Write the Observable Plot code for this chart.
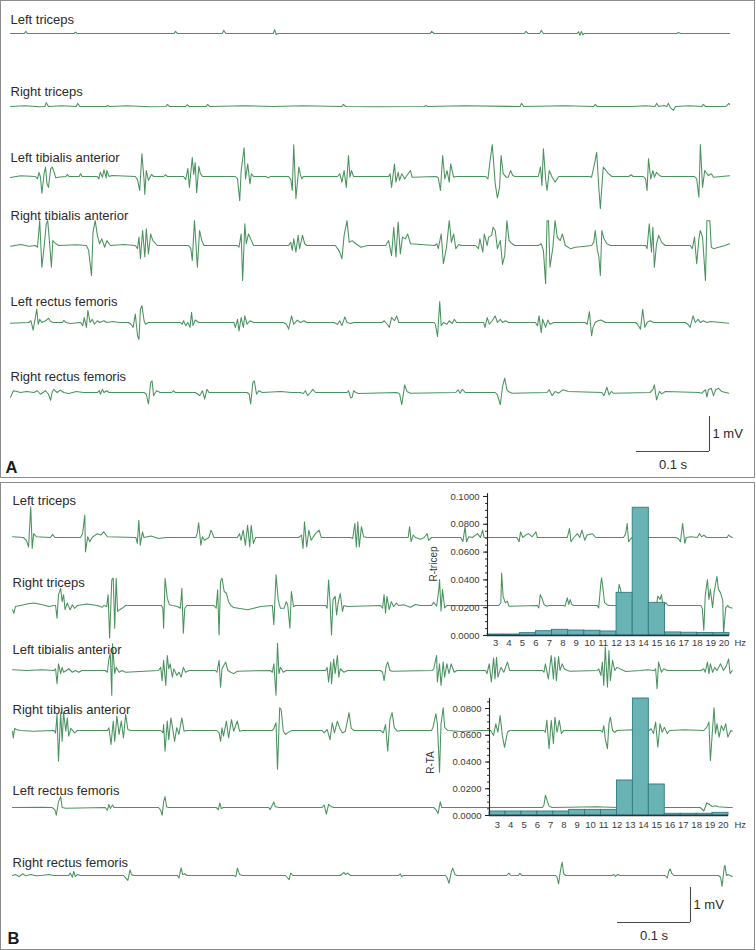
<!DOCTYPE html>
<html><head><meta charset="utf-8">
<script src="https://cdn.jsdelivr.net/npm/d3@7"></script>
<script src="https://cdn.jsdelivr.net/npm/@observablehq/plot@0.6"></script>
<style>
body{margin:0;background:#fff;font-family:"Liberation Sans",Arial,sans-serif}
#root{position:relative;width:756px;height:950px;overflow:hidden;background:#fff}
.box{position:absolute;box-sizing:border-box;border:1.5px solid #8c8c8c}
</style></head><body><div id="root"></div>
<script>
// ---------- DATA (time in ms, amplitude in mV relative to trace baseline) ----------
const MUSCLES = ["Left triceps","Right triceps","Left tibialis anterior","Right tibialis anterior","Left rectus femoris","Right rectus femoris"];

const A_LEFT_TRICEPS = [[0,0],[19,0],[21,0.06],[23,0],[87,0],[89,0.04],[91,0],[224,0],[226,0.06],[229,0],[290,0],[292,0.09],[295,0],[360,0],[362,0.11],[364,-0.03],[366,0],[575,0],[577,0.06],[580,0],[704,0],[706,0.06],[709,0],[725,0],[727,0.09],[730,0],[776,0],[778,0.05],[780,-0.05],[782,0.06],[784,-0.04],[786,0],[913,0],[915,0.03],[918,0],[985,0]];
const A_RIGHT_TRICEPS = [[0,0],[20,0.02],[40,-0.01],[47,0],[49,0.11],[52,0],[70,0.02],[90,0],[92,0.09],[95,0],[131,0],[133,0.03],[136,0],[160,0.02],[190,-0.01],[213,0],[215,0.06],[218,0],[240,0],[242,0.05],[245,0],[268,0],[270,0.06],[273,0],[320,0.02],[360,0],[400,0.02],[454,0],[456,0.06],[459,0],[500,-0.01],[567,0],[569,0.03],[572,0],[620,0.02],[698,0],[700,0.09],[703,0],[760,0.02],[799,0],[801,0.06],[804,0],[850,0],[870,0.02],[883,0],[885,0.09],[888,0],[895,0.03],[899,0],[901,0.09],[904,-0.03],[908,-0.11],[911,0],[930,0.02],[947,0],[949,0.06],[952,0],[980,0],[984,0.09],[985,0.06]];
const A_LEFT_TA = [[0,-0.03],[14,0.02],[34,0],[37,-0.07],[39,0.12],[41,-0.02],[43,-0.48],[46,0.08],[48,0.27],[50,-0.21],[52,-0.31],[55,0.22],[57,0.27],[59,0.17],[62,-0.04],[65,-0.02],[76,0],[78,0.06],[80,0],[94,0],[96,0.08],[98,0],[119,0],[121,-0.07],[123,0.12],[126,-0.02],[128,0.19],[131,-0.04],[132,0.17],[135,0],[139,0.03],[171,0],[174,-0.09],[177,-0.4],[180,0.65],[183,-0.11],[184,-0.51],[186,0.17],[189,-0.11],[193,0.06],[196,0],[210,0],[212,0.05],[215,0],[237,0],[240,-0.09],[243,0.23],[245,-0.31],[249,0.54],[251,0.06],[253,0.4],[255,-0.46],[258,0.29],[260,0.09],[263,0],[308,0],[311,-0.07],[314,-0.69],[316,0.17],[320,0.82],[322,-0.07],[325,0.36],[328,-0.21],[330,0.08],[333,0],[350,0],[353,-0.04],[356,0],[381,0],[384,-0.09],[386,-0.4],[388,0.91],[391,-0.63],[395,0.27],[397,0.06],[399,-0.07],[401,0],[448,0],[451,0.08],[454,-0.16],[457,0.17],[460,-0.31],[463,0.6],[465,-0.02],[467,0.17],[470,0],[518,0],[520,0.08],[522,-0.31],[526,0.36],[528,-0.16],[531,0.12],[533,-0.11],[536,0.08],[540,-0.07],[543,0.03],[548,0.17],[550,-0.02],[583,0],[586,-0.04],[589,-0.4],[592,0.6],[595,-0.07],[598,0.17],[601,-0.16],[603,0.36],[607,-0.02],[610,0],[651,0],[654,-0.07],[657,0.46],[660,0.91],[664,-0.21],[667,-0.61],[670,-0.31],[672,0.6],[675,0.08],[679,-0.02],[682,-0.02],[685,0.17],[688,0.03],[691,0],[723,0],[726,0.27],[728,-0.26],[730,0.79],[733,-0.07],[735,-0.4],[738,0.17],[742,-0.02],[746,-0.16],[751,0],[793,0],[796,-0.02],[800,0.36],[803,0.69],[806,-0.35],[808,-0.92],[810,-0.31],[812,0.27],[816,0.17],[819,0.08],[824,0],[847,0],[850,0.05],[853,0],[867,0],[870,-0.07],[872,-0.4],[874,0.51],[877,-0.07],[880,0.17],[882,-0.02],[885,0.12],[889,0.03],[892,0],[937,0],[940,-0.07],[943,-0.59],[945,0.91],[948,-0.31],[951,0.17],[954,0.08],[956,0.03],[960,0.08],[963,-0.02],[985,0.02]];
const A_RIGHT_TA = [[0,-0.02],[14,0.03],[25,-0.02],[34,0],[37,-0.05],[40,0.71],[43,-0.62],[46,-0.05],[49,0.62],[51,0.71],[54,-0.05],[56,-0.62],[58,0.14],[62,0.05],[66,0],[90,0.02],[104,0],[107,-0.14],[111,-0.86],[113,0.38],[116,0.71],[119,0.29],[122,0.05],[125,0.19],[129,-0.05],[132,0.14],[137,0],[155,0.03],[171,0],[174,-0.09],[176,0.24],[178,-0.38],[181,0.43],[184,-0.33],[186,0.48],[189,-0.24],[192,0.33],[195,0.14],[199,0.05],[201,0],[244,0],[247,-0.09],[249,-0.43],[252,0.71],[256,-0.62],[259,0.43],[262,0.14],[265,0],[311,0],[313,-0.05],[316,0.33],[318,-1.0],[321,0.62],[323,0.05],[326,0.33],[330,0.14],[333,0],[381,0],[384,0.09],[386,-0.14],[388,0.19],[391,-0.19],[394,0.29],[396,-0.09],[400,0.29],[403,0.05],[406,0],[445,0],[448,-0.09],[451,-0.19],[454,-0.38],[457,0.29],[461,0.71],[464,0.09],[468,0.14],[473,0.05],[480,-0.05],[489,0],[514,0],[518,0.14],[522,-0.29],[525,0.52],[528,-0.33],[531,0.67],[534,-0.24],[537,0.24],[541,0.19],[544,0.33],[548,0.05],[581,0],[584,0.05],[586,-0.09],[590,0.33],[593,-0.52],[597,-0.09],[601,0.71],[604,0.09],[607,0.33],[610,-0.09],[614,0.03],[618,0],[637,0],[641,-0.09],[643,0.19],[647,-0.19],[649,0.33],[653,0],[655,0.24],[659,0.29],[661,0.52],[664,0.43],[667,-0.09],[671,0.14],[674,-0.54],[677,-0.29],[680,0.71],[683,0.14],[687,0.05],[691,0],[723,0],[727,0.05],[730,-0.14],[733,-1.09],[735,0.71],[737,0.71],[739,-0.62],[743,-0.05],[746,0.71],[749,0.24],[753,0.14],[756,0.33],[760,0],[767,-0.09],[774,-0.05],[796,0],[799,0.09],[801,0.43],[804,-0.14],[806,-0.33],[808,-0.86],[810,0.43],[813,0.19],[817,0.05],[822,0],[870,0],[872,-0.09],[875,0.62],[878,-0.19],[880,0.52],[882,-0.62],[885,0.05],[888,0.29],[892,0.09],[897,0],[931,0],[934,-0.09],[937,0.24],[940,-0.52],[943,0.19],[945,0.43],[948,0.24],[952,-1.0],[954,0.71],[958,0.71],[960,-0.05],[963,-0.09],[970,-0.05],[979,0],[985,0.05]];
const A_LEFT_RF = [[0,-0.02],[25,0],[28,0.05],[31,-0.22],[34,0.14],[36,0.38],[38,-0.05],[40,0.09],[43,0],[48,0.05],[52,0.12],[55,0.03],[59,0],[71,0],[73,0.06],[76,0],[82,-0.03],[96,0],[99,-0.09],[101,0.14],[104,-0.14],[106,0.35],[109,0],[112,0.09],[115,-0.05],[119,0.05],[122,0],[128,0.05],[132,0],[140,0.03],[150,0],[162,0],[165,-0.05],[168,-0.14],[171,0.24],[174,-0.38],[176,-0.48],[178,0.38],[180,0.48],[183,0.05],[185,-0.05],[189,0],[233,0],[235,-0.05],[237,0.05],[240,-0.09],[243,0],[246,-0.14],[248,0.29],[250,-0.09],[253,0.07],[258,0],[301,0],[306,0],[308,-0.14],[311,0.09],[313,-0.24],[316,0.14],[319,-0.14],[321,0.19],[324,-0.05],[328,0.05],[333,0],[374,0],[378,-0.05],[381,-0.19],[385,0.19],[388,-0.05],[393,0.07],[397,0],[402,0.05],[406,0],[443,0],[448,-0.05],[451,0.05],[454,-0.09],[458,0.16],[461,0],[466,-0.03],[470,0],[504,0],[509,0],[512,0.05],[516,-0.05],[519,-0.14],[522,0.14],[526,0.05],[529,0.19],[532,0],[536,0],[580,0],[582,-0.05],[585,-0.4],[588,0.6],[590,-0.09],[593,0],[598,-0.05],[601,0.05],[605,-0.03],[608,0.09],[611,0],[616,0],[648,0],[650,-0.14],[653,0.14],[656,-0.05],[660,0.05],[664,0.19],[667,0],[671,0.09],[674,0],[678,0.05],[682,0],[719,0],[722,-0.09],[724,0.19],[727,-0.29],[729,0.09],[733,-0.14],[736,0.07],[739,-0.05],[744,0],[787,0],[790,-0.05],[793,0.31],[796,-0.38],[798,-0.14],[801,0],[805,0.05],[809,0.07],[815,0],[819,0],[856,0],[859,-0.05],[863,-0.19],[866,0.38],[869,-0.14],[872,0],[876,0.05],[881,0],[924,0],[928,-0.05],[931,-0.14],[935,0.19],[938,0],[942,0.09],[945,0],[949,0.05],[954,0],[959,0.03],[984,-0.02]];
const A_RIGHT_RF = [[0,-0.14],[4,0.05],[14,0],[22,0.03],[32,0],[37,0.05],[41,-0.05],[48,0.05],[52,-0.05],[55,-0.22],[57,0],[59,0.09],[64,0],[68,0.07],[73,0],[80,-0.03],[90,0.03],[100,0],[119,0],[122,0.05],[123,-0.05],[126,0.09],[128,0],[132,0.05],[135,0],[183,0],[186,-0.05],[189,-0.33],[192,0.29],[194,0.33],[196,-0.09],[200,0.05],[205,0],[221,0],[223,0.05],[226,0],[253,0],[257,-0.05],[259,-0.09],[263,0.05],[266,-0.19],[269,0.09],[272,0],[276,0],[324,0],[327,-0.05],[329,-0.33],[332,0.29],[334,0.33],[337,-0.05],[340,0.05],[345,0],[370,0.03],[385,0],[397,0],[401,-0.03],[404,0.05],[407,-0.09],[411,0],[414,0.09],[418,0],[461,0],[463,0.05],[466,-0.16],[468,-0.14],[470,0.05],[473,0],[477,-0.03],[529,0],[533,-0.04],[536,-0.35],[540,0.22],[543,0.03],[548,-0.02],[610,0],[613,0.08],[616,-0.02],[619,0.09],[623,0],[664,0],[667,-0.07],[671,-0.35],[674,0.17],[677,0.41],[680,0.08],[682,0.03],[687,-0.02],[735,0],[738,0.08],[742,-0.09],[746,0.03],[751,-0.02],[757,0.08],[764,0.03],[810,0],[813,-0.09],[817,0.15],[820,-0.07],[823,0.03],[826,-0.02],[876,0],[880,0.08],[882,0.22],[885,-0.21],[889,0.03],[892,-0.04],[897,0.03],[943,0],[947,-0.02],[952,0.08],[954,-0.13],[956,0.08],[960,0.12],[963,-0.09],[966,0.08],[970,0.12],[974,0.03],[984,-0.02]];

const B_LEFT_TRICEPS = [[0,0.02],[15,0],[19,-0.08],[22,-0.27],[25,0.88],[27,-0.31],[29,0.11],[33,0.02],[52,0],[55,0.09],[58,0],[93,0],[96,0.11],[99,0.64],[100,-0.41],[103,0.02],[106,-0.12],[109,0],[116,0.11],[121,0.07],[125,0.16],[130,0.02],[169,0],[171,-0.17],[173,0.49],[175,-0.22],[178,0.16],[180,0],[190,0.04],[200,-0.03],[210,0],[251,0],[253,0.11],[255,0.42],[258,-0.22],[260,0.02],[263,-0.08],[269,0],[272,0.21],[276,0],[308,0],[311,0.11],[313,-0.08],[316,0.21],[319,-0.22],[322,0.35],[325,-0.27],[327,0.35],[330,-0.17],[333,0],[392,0],[396,0.07],[398,-0.31],[400,0.45],[403,-0.27],[406,0.21],[409,-0.08],[415,0.11],[420,0.21],[423,0],[463,0],[466,-0.03],[469,0.4],[471,-0.27],[473,0.45],[475,-0.27],[478,0.31],[481,0.02],[486,0],[542,0],[544,0.31],[546,-0.12],[549,0.07],[552,0],[559,-0.05],[564,0],[568,0.11],[570,-0.08],[574,0],[614,0],[617,-0.12],[620,0.31],[622,-0.12],[625,0.02],[630,0],[637,0.11],[641,0],[644,0.21],[646,0],[691,0],[694,-0.12],[696,0.16],[699,0],[703,0.07],[707,0.11],[712,0.02],[717,0.16],[719,0],[760,0],[763,0.26],[765,-0.12],[769,0],[774,0.11],[777,0],[780,0.21],[784,-0.08],[787,0.07],[794,0.11],[799,0],[837,0],[840,0.11],[842,0.4],[844,-0.12],[847,-0.03],[849,0],[908,0],[912,-0.03],[915,-0.12],[918,0.4],[921,-0.17],[923,0],[929,0.02],[938,0],[941,0.11],[944,0.02],[947,0.07],[951,0],[979,0],[981,0.07],[984,0.02],[986,0]];
const B_RIGHT_TRICEPS = [[0,-0.12],[2,-0.22],[4,-0.03],[11,0],[20,0.04],[29,0.07],[41,0.02],[50,-0.03],[57,0],[59,0],[61,-0.36],[63,0.31],[66,0.49],[68,0.11],[70,0.31],[72,-0.12],[75,0.07],[79,-0.12],[82,0.02],[85,-0.08],[89,0],[102,0.04],[116,0],[123,-0.05],[125,0],[129,-0.03],[131,0.31],[133,-0.93],[136,0.73],[138,0.78],[140,-0.65],[142,0.78],[144,-0.17],[147,-0.12],[150,-0.08],[155,0],[204,0],[206,-0.08],[207,-0.65],[209,0.78],[212,0.21],[215,0.02],[219,0],[226,-0.03],[230,-0.08],[232,0.49],[234,-0.79],[236,-0.08],[239,0],[276,0],[279,-0.08],[281,0.45],[283,-0.84],[285,0.69],[287,0.78],[290,0.4],[293,0.35],[296,0.11],[299,0],[303,-0.06],[322,-0.12],[340,-0.03],[356,0],[358,-0.55],[361,0.88],[364,0.16],[367,-0.08],[372,-0.08],[375,0.11],[377,0.02],[380,-0.65],[382,0.4],[385,-0.03],[388,0],[429,0],[431,-0.08],[433,0.73],[435,0.11],[437,-0.84],[439,0.16],[442,0.26],[444,-0.27],[446,0.07],[449,0.35],[452,-0.17],[454,0],[459,-0.03],[504,0],[507,-0.08],[509,0.31],[511,-0.22],[513,0.26],[516,-0.12],[519,0.11],[522,-0.03],[526,0.07],[529,0],[536,0.02],[545,-0.05],[552,0.03],[559,0],[574,0],[577,0.09],[581,-0.02],[584,0.46],[585,0.74],[587,-0.16],[589,0.46],[592,-0.07],[595,0],[666,0],[669,0.08],[670,0.93],[672,0.27],[675,0.08],[678,0.12],[680,-0.02],[719,0],[721,-0.07],[723,0.31],[726,0.17],[728,0.03],[732,-0.02],[735,0],[755,0],[757,-0.02],[760,0.22],[762,0.03],[764,0.17],[766,0.03],[769,0],[801,0],[803,-0.07],[806,0.65],[807,0.79],[809,0.46],[811,0.08],[814,0.03],[817,0],[828,0],[831,0.6],[833,0.46],[835,0.08],[840,0],[882,0],[884,0.27],[887,0.17],[889,0.31],[891,-0.02],[895,0.08],[898,0],[943,0],[945,-0.09],[947,-0.71],[949,0.29],[952,0.74],[954,0.17],[956,0.46],[959,-0.06],[961,0.36],[965,0.83],[967,0.46],[970,0.36],[973,0.14],[974,-0.8],[977,-0.06],[980,0],[982,-0.06],[986,-0.07]];
const B_LEFT_TA = [[0,0.02],[20,0],[40,0.02],[57,0],[59,0.05],[61,-0.38],[63,0.19],[66,-0.09],[68,0.09],[70,-0.05],[74,0],[77,0.05],[82,-0.05],[86,0],[91,-0.05],[95,0],[127,0],[130,-0.05],[132,0.33],[134,0.48],[136,-0.71],[137,0.76],[140,-0.09],[142,0.09],[146,-0.05],[150,0],[155,-0.05],[200,0],[203,0.09],[205,-0.29],[207,0.29],[210,-0.43],[212,0.43],[214,0.05],[216,0.19],[219,-0.19],[221,0.05],[225,-0.14],[228,-0.05],[231,-0.19],[234,0.09],[237,-0.05],[242,0],[278,0],[280,-0.05],[283,0.29],[285,-0.48],[287,0.05],[292,0.24],[295,0],[299,-0.05],[303,-0.09],[308,-0.02],[353,0],[356,-0.05],[358,0.19],[361,-0.71],[363,0.78],[365,-0.09],[367,0.09],[371,-0.05],[375,0],[429,0],[431,0.09],[433,-0.33],[436,0.24],[437,-0.38],[440,0.33],[442,-0.09],[445,0.43],[447,-0.19],[449,0.05],[454,-0.05],[459,0],[504,0],[507,-0.05],[509,-0.29],[512,0.14],[514,0.24],[517,0],[520,-0.02],[575,0],[577,0.05],[581,0.43],[582,-0.33],[585,0.19],[587,-0.43],[590,0.24],[592,-0.19],[595,0.19],[598,-0.09],[601,0.19],[605,-0.05],[609,0],[648,0],[650,-0.09],[653,0.19],[656,-0.33],[659,0.36],[661,-0.24],[663,0.38],[665,-0.19],[669,0.09],[673,-0.05],[678,0.24],[681,0],[685,0],[726,0],[728,-0.05],[730,0.19],[734,-0.24],[736,0.09],[738,0.43],[741,-0.24],[743,0.38],[745,-0.29],[748,0.4],[750,0],[753,0.19],[756,0.05],[760,0],[764,-0.02],[801,0],[803,0.05],[806,-0.14],[808,0.24],[810,-0.43],[812,0.67],[815,-0.48],[817,0.57],[819,-0.29],[822,0.29],[825,0],[828,0.09],[840,-0.03],[860,0],[870,0.02],[879,0],[881,0.05],[883,-0.52],[885,0.24],[889,-0.05],[892,0.05],[897,0],[943,0],[947,0.05],[949,-0.05],[952,0.24],[954,-0.09],[956,0.19],[959,-0.05],[962,0.09],[965,0],[970,0.19],[974,0],[978,0.14],[981,0.33],[983,-0.09],[986,0]];
const B_RIGHT_TA = [[0,-0.02],[1,-0.21],[3,0.06],[5,0.03],[11,0],[29,-0.02],[57,0],[59,-0.07],[61,0.46],[63,-0.88],[66,0.51],[68,-0.31],[70,0.51],[73,-0.02],[75,0.36],[77,-0.16],[80,0.06],[85,-0.07],[89,0],[130,0],[132,0.08],[135,-0.4],[138,0.27],[140,-0.31],[143,0.41],[146,-0.11],[149,0.27],[152,-0.21],[155,0.46],[158,0.03],[162,0],[203,0],[206,-0.07],[207,0.17],[209,-0.59],[212,0.27],[214,-0.26],[217,0.36],[220,-0.02],[222,-0.31],[225,0.08],[228,-0.11],[232,0.36],[235,-0.02],[239,0],[280,0],[283,-0.07],[285,-0.31],[287,0.08],[289,-0.16],[293,0.27],[296,-0.21],[300,0.31],[303,-0.02],[308,0.27],[311,-0.02],[315,0],[356,0],[358,0.06],[361,0.22],[363,-1.11],[366,0.65],[368,0.6],[371,-0.02],[374,-0.11],[379,-0.04],[383,0],[424,0],[427,-0.07],[431,0.03],[435,-0.26],[438,0.22],[441,-0.07],[445,0.27],[448,0.08],[452,-0.07],[456,-0.02],[461,0.51],[464,0.06],[468,0],[504,0],[508,-0.07],[511,0.17],[514,-0.59],[517,0.31],[520,0.51],[523,0.08],[527,-0.02],[532,0],[574,0],[576,0.09],[580,0.48],[582,0.19],[585,-1.19],[587,0.19],[590,0.65],[592,0.09],[596,0],[615,-0.03],[640,0],[655,0],[659,-0.14],[662,0.19],[665,-0.05],[668,0.43],[671,-0.14],[674,-0.48],[678,-0.05],[681,0],[728,0],[730,-0.05],[732,0.29],[735,-0.52],[738,0.29],[741,-0.38],[743,0.38],[746,-0.05],[749,0.29],[752,-0.09],[755,0],[806,0],[808,-0.05],[810,0.14],[812,-0.24],[815,-0.52],[817,0.19],[819,0.38],[822,0],[825,-0.05],[828,0],[850,0.02],[870,0],[872,0],[875,0.05],[878,-0.09],[881,0.24],[884,-0.48],[887,0.19],[890,-0.05],[893,0.09],[897,-0.09],[900,0],[920,0.02],[947,0],[951,0.09],[954,0.24],[956,-0.86],[959,0.05],[961,0.65],[963,-0.09],[965,0.19],[968,-0.19],[971,0.14],[974,0],[977,0.19],[980,-0.19],[984,0],[986,-0.02]];
const B_LEFT_RF = [[0,0],[40,0.01],[54,0],[58,-0.06],[60,-0.22],[63,0.16],[66,0.31],[68,0],[73,-0.02],[127,0],[130,-0.08],[132,0.09],[134,-0.03],[137,0.07],[139,0],[200,0],[203,-0.08],[205,-0.22],[207,0.16],[209,0.31],[211,0.02],[214,0],[279,0],[282,-0.06],[284,0.13],[286,-0.03],[289,0],[351,0],[353,-0.06],[356,0.07],[358,0.16],[360,0.02],[365,0],[424,0],[427,0.07],[430,-0.19],[433,0.09],[437,0.02],[440,0],[577,0],[580,-0.06],[583,-0.17],[586,0.16],[588,0],[593,0],[726,0],[728,0.07],[730,0.35],[733,0.16],[735,0.04],[739,0],[800,0.02],[830,0],[942,0],[947,-0.1],[951,0.13],[954,0.1],[958,0.03],[963,0.05],[967,0.02],[981,0],[986,0]];
const B_RIGHT_RF = [[0,0],[4,0.03],[9,-0.03],[14,0.05],[18,-0.01],[25,0.03],[32,-0.01],[42,0.01],[50,0.03],[56,0],[77,0],[79,0.07],[82,-0.05],[84,0.12],[86,-0.03],[89,0.03],[93,0],[152,0],[155,-0.07],[158,-0.14],[161,0.16],[163,0.03],[166,0],[226,0],[228,-0.07],[231,0.22],[233,0.03],[236,0.05],[239,0],[303,0],[306,-0.03],[308,0.21],[311,0.03],[315,0],[374,0],[376,-0.05],[379,-0.12],[381,0.07],[384,0],[449,0],[452,0.05],[454,0.09],[456,0.03],[459,0.07],[463,0],[529,0],[531,0.05],[533,-0.03],[536,0],[593,0],[595,-0.05],[598,-0.22],[601,0.09],[603,0.21],[606,0.03],[609,0],[677,0],[680,0.07],[682,0.01],[693,0],[695,0.06],[698,0],[744,0],[746,-0.05],[748,-0.24],[751,0.19],[753,0.38],[755,0.05],[758,0],[821,0],[824,0.03],[826,-0.03],[829,0.03],[832,0],[894,0],[897,-0.07],[899,0.12],[901,0.19],[903,0.07],[906,0],[967,0],[970,-0.05],[972,-0.31],[975,0.24],[976,0.29],[978,0],[980,0.03],[986,-0.03]];

// Frequency histograms (power per bin)
const FREQ_TICKS = [3,4,5,6,7,8,9,10,11,12,13,14,15,16,17,18,19,20];
const BIN_EDGES_HZ = [2.4,3.6,4.8,6.0,7.2,8.4,9.6,10.8,12.0,13.2,14.4,15.6,16.8,18.0,19.2,20.4];
const R_TRICEP_POWER = [0.0007,0.0007,0.0017,0.0031,0.0041,0.0036,0.0034,0.0029,0.0307,0.0919,0.0235,0.0022,0.0020,0.0018,0.0017];
const R_TA_POWER = [0.0030,0.0030,0.0030,0.0030,0.0030,0.0042,0.0042,0.0042,0.0262,0.0875,0.0232,0.0013,0.0013,0.0013,0.0020];
const Y_TICKS_TRICEP = [0,0.02,0.04,0.06,0.08,0.1];
const Y_TICKS_TA = [0,0.02,0.04,0.06,0.08];
const SCALE_BAR = {ms: 100, mV: 1, timeLabel: "0.1 s", voltLabel: "1 mV"};

// ---------- LAYOUT ----------
const PX_PER_MS = 0.73, PX_PER_MV = 35;
const GREEN = "#3f8c55", INK = "#2a2a2a", FONT = "'Liberation Sans', Arial, sans-serif";
const root = document.getElementById("root");

function box(left, top, w, h) {
  const d = document.createElement("div");
  d.className = "box";
  Object.assign(d.style, {left: left + "px", top: top + "px", width: w + "px", height: h + "px"});
  root.appendChild(d);
}
box(0, 0, 754.5, 478);
box(0, 481.5, 754.5, 468);

function drawPanel(p) {
  const lvl = py => (p.height - (py - p.top)) / PX_PER_MV;
  const data = p.traces.flatMap((tr, i) => tr.map(([t, v]) => ({t, v: v + lvl(p.rows[i]), i})));
  const labels = MUSCLES.map((m, i) => ({m, t: 0, y: lvl(p.labels[i])}));
  const barT = (p.bar[0] - p.x0) / PX_PER_MS, barV = lvl(p.bar[1]);
  const svg = Plot.plot({
    width: 756, height: p.height, margin: 0,
    style: {background: "transparent", fontFamily: FONT, position: "absolute", left: "0px", top: p.top + "px", overflow: "visible"},
    x: {domain: [0, 1000], range: [p.x0, p.x0 + 1000 * PX_PER_MS], axis: null},
    y: {domain: [0, p.height / PX_PER_MV], range: [p.height, 0], axis: null},
    marks: [
      Plot.line(data, {x: "t", y: "v", z: "i", stroke: GREEN, strokeWidth: 1.05, strokeOpacity: 0.95}),
      Plot.text(labels, {x: "t", y: "y", text: "m", textAnchor: "start", lineAnchor: "bottom", fontSize: 13, fill: INK}),
      Plot.ruleY([barV], {x1: barT - SCALE_BAR.ms, x2: barT, stroke: "#4a4a4a", strokeWidth: 1.1}),
      Plot.ruleX([barT], {y1: barV, y2: barV + SCALE_BAR.mV, stroke: "#4a4a4a", strokeWidth: 1.1}),
      Plot.text([SCALE_BAR.voltLabel], {x: [barT], y: [barV + SCALE_BAR.mV / 2], dx: 3, textAnchor: "start", lineAnchor: "middle", fontSize: 13, fill: INK}),
      Plot.text([SCALE_BAR.timeLabel], {x: [barT - SCALE_BAR.ms / 2], y: [barV], dy: 13, textAnchor: "middle", lineAnchor: "middle", fontSize: 13, fill: INK}),
      Plot.text([p.letter], {frameAnchor: "bottom-left", dx: p.letterXY[0], dy: p.letterXY[1] - (p.top + p.height), textAnchor: "start", lineAnchor: "bottom", fontSize: 16.5, fontWeight: "bold", fill: "#1a1a1a"})
    ]
  });
  root.appendChild(svg);
}

drawPanel({traces: [A_LEFT_TRICEPS, A_RIGHT_TRICEPS, A_LEFT_TA, A_RIGHT_TA, A_LEFT_RF, A_RIGHT_RF],
  top: 0, height: 480, x0: 10, rows: [33,106,176,245,322,392], labels: [23,95,161,219,305,380],
  bar: [709, 451], letter: "A", letterXY: [5, 472]});
drawPanel({traces: [B_LEFT_TRICEPS, B_RIGHT_TRICEPS, B_LEFT_TA, B_RIGHT_TA, B_LEFT_RF, B_RIGHT_RF],
  top: 480, height: 470, x0: 12, rows: [537,605,670,730,807,875], labels: [504,586,653,713,794,866],
  bar: [690, 922], letter: "B", letterXY: [7, 943]});

function drawInset(o) {
  const bins = o.values.map((v, i) => ({lo: BIN_EDGES_HZ[i], hi: BIN_EDGES_HZ[i + 1], v}));
  const minor = d3.range(0, o.yMax + 1e-9, 0.005);
  const svg = Plot.plot({
    width: o.width, height: o.height,
    marginLeft: o.ml, marginRight: o.mr, marginTop: o.mt, marginBottom: o.mb,
    style: {background: "transparent", fontFamily: FONT, position: "absolute", left: o.left + "px", top: o.top + "px", overflow: "visible"},
    x: {domain: [BIN_EDGES_HZ[0], BIN_EDGES_HZ[BIN_EDGES_HZ.length - 1]], axis: null},
    y: {domain: [0, o.yMax], axis: null},
    marks: [
      Plot.rectY(bins, {x1: "lo", x2: "hi", y: "v", fill: "#69b3b5", stroke: "#2f7b80", strokeWidth: 0.9, inset: 0}),
      Plot.axisY({ticks: minor, tickSize: 2, tickFormat: () => "", stroke: "#333", label: null}),
      Plot.axisY({ticks: o.yTicks, tickSize: 4, tickPadding: 4, tickFormat: d => d.toFixed(4), fontSize: 9.5, fill: "#3a3a3a", stroke: "#222", label: null}),
      Plot.ruleX([BIN_EDGES_HZ[0]], {stroke: "#222", strokeWidth: 1.1}),
      Plot.ruleY([0], {stroke: "#2a3346", strokeWidth: 1.6}),
      Plot.text(FREQ_TICKS, {x: d => d, frameAnchor: "bottom", dy: o.hzDy, textAnchor: "middle", lineAnchor: "middle", fontSize: 9.5, fill: "#3a3a3a"}),
      Plot.text(["Hz"], {frameAnchor: "bottom-right", dx: o.hzDx, dy: o.hzDy, textAnchor: "middle", lineAnchor: "middle", fontSize: 9.5, fill: "#3a3a3a"}),
      Plot.text([o.label], {frameAnchor: "left", rotate: -90, dx: o.labDx, dy: o.labDy, lineAnchor: "middle", textAnchor: "middle", fontSize: 10, fill: "#3a3a3a"})
    ]
  });
  root.appendChild(svg);
}

drawInset({values: R_TRICEP_POWER, label: "R-tricep", yTicks: Y_TICKS_TRICEP, yMax: 0.102,
  left: 420, top: 485, width: 336, height: 170, ml: 67, mr: 27, mt: 8.2, mb: 20,
  hzDy: 7.7, hzDx: 10.7, labDx: -54, labDy: -0.6});
drawInset({values: R_TA_POWER, label: "R-TA", yTicks: Y_TICKS_TA, yMax: 0.0875,
  left: 420, top: 690, width: 336, height: 150, ml: 69, mr: 28, mt: 8, mb: 25,
  hzDy: 9.3, hzDx: 11.7, labDx: -58.3, labDy: 5.5});
</script></body></html>
